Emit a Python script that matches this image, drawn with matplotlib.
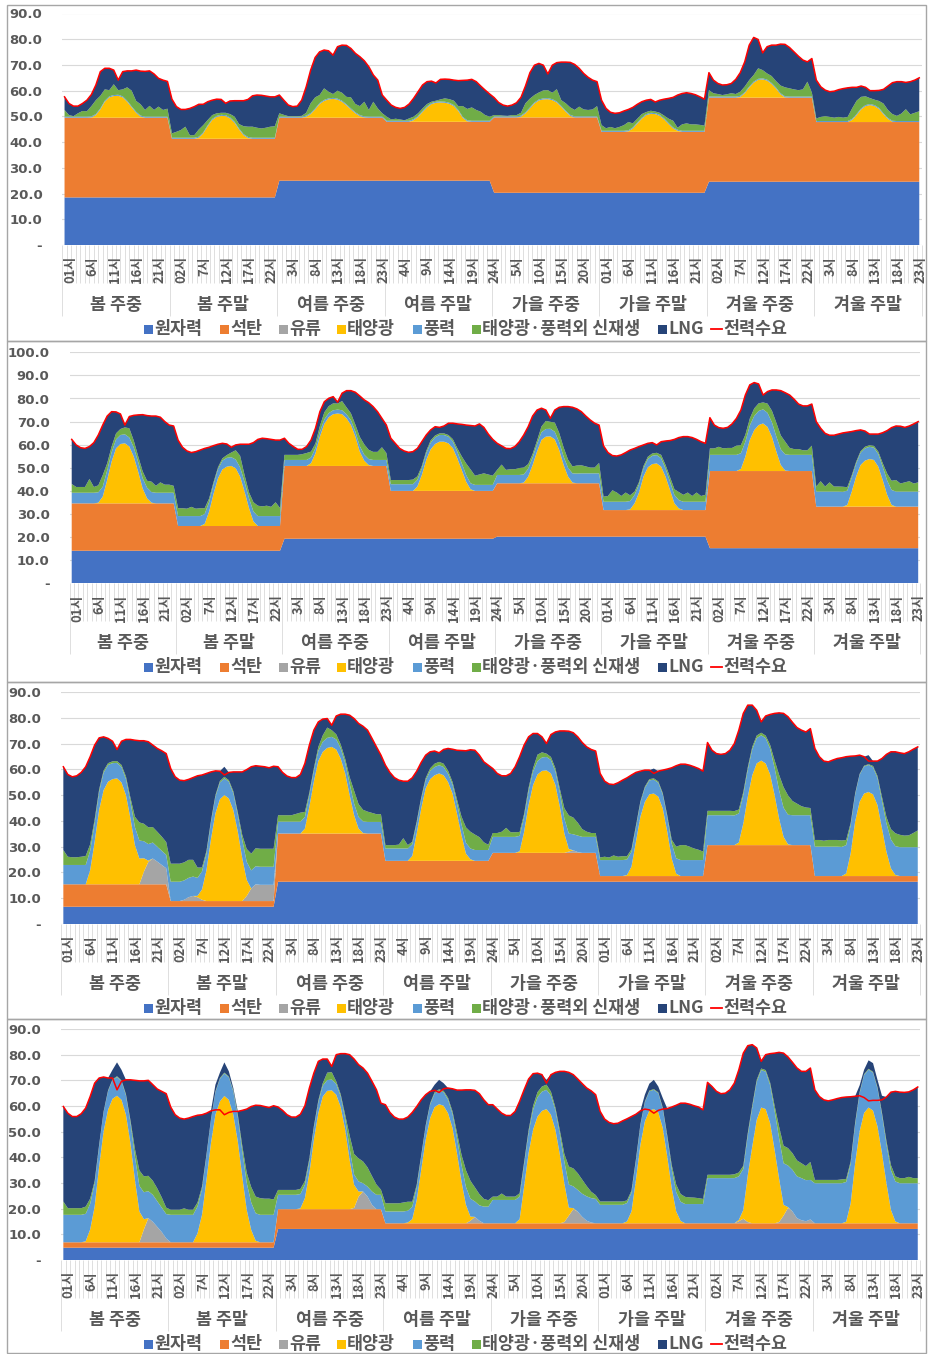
import numpy as np
import matplotlib
matplotlib.use("Agg")
import matplotlib.pyplot as plt
import matplotlib.transforms as mtransforms
from matplotlib.patches import Rectangle
from matplotlib.lines import Line2D
from matplotlib.collections import LineCollection

plt.rcParams['font.family'] = ['Noto Sans CJK KR', 'DejaVu Sans']

GROUPS = ['봄 주중', '봄 주말', '여름 주중', '여름 주말', '가을 주중', '가을 주말', '겨울 주중', '겨울 주말']
SERIES = ['원자력', '석탄', '유류', '태양광', '풍력', '태양광·풍력외 신재생', 'LNG']
COLORS = ['#4472C4', '#ED7D31', '#A5A5A5', '#FFC000', '#5B9BD5', '#70AD47', '#264478']
DEMAND_NAME = '전력수요'
HOUR_LABELS = ['01시', '02시', '3시', '4시', '5시', '6시', '7시', '8시', '9시', '10시', '11시', '12시',
               '13시', '14시', '15시', '16시', '17시', '18시', '19시', '20시', '21시', '22시', '23시', '24시']
Z24 = [0] * 24

# ---------------- Panel 1 ----------------
P1_NUC = [18.5, 18.5, 25.0, 25.0, 20.3, 20.3, 24.6, 24.6]
P1_COAL = [31.0, 22.8, 24.5, 22.9, 29.3, 23.7, 32.7, 23.2]
P1_DEMAND = [
    [57.6,55.0,54.0,54.0,55.0,56.3,58.5,62.2,67.4,68.7,68.7,68.0,64.1,67.4,67.7,67.7,68.0,67.6,67.5,67.7,66.5,64.8,64.1,63.6],
    [56.7,53.8,52.7,52.7,53.1,53.8,54.7,54.7,55.7,56.3,56.7,56.6,55.1,56.0,56.1,56.1,56.1,56.6,58.0,58.3,58.2,57.9,57.6,57.6],
    [58.3,56.3,54.4,53.8,54.0,56.3,61.5,68.0,72.9,75.1,75.8,75.5,73.8,77.1,77.7,77.6,76.4,74.5,73.2,71.6,69.3,66.1,64.1,58.3],
    [56.3,54.4,53.5,53.1,53.5,54.8,57.0,59.6,62.2,63.5,63.7,63.0,64.4,64.5,64.4,64.1,63.9,64.0,64.1,64.4,63.5,61.8,60.2,58.7],
    [57.3,55.4,54.4,54.0,54.4,55.3,57.4,61.8,67.0,69.9,70.6,69.9,66.5,69.9,70.9,71.1,71.1,71.0,70.2,68.7,66.7,65.2,64.1,63.5],
    [56.3,53.1,51.6,51.2,51.4,52.1,52.7,53.5,54.7,55.7,56.3,56.6,55.6,56.3,56.7,57.0,57.4,58.3,58.9,59.2,58.9,58.4,57.6,56.7],
    [67.0,64.1,62.8,62.2,62.3,62.8,64.4,67.0,71.2,77.7,80.7,79.9,74.7,77.1,77.7,77.7,78.1,78.0,76.8,75.1,73.4,71.9,71.2,72.5],
    [64.1,61.5,60.2,59.6,59.8,60.4,60.8,61.1,61.3,61.3,61.8,61.3,60.0,60.0,60.1,60.5,61.8,63.1,63.5,63.5,63.2,63.5,64.1,65.0]]
P1_OIL = [Z24, Z24, Z24, Z24, Z24, Z24, Z24, Z24]
P1_SOLAR = [
    [0,0,0,0,0,0,0.1,1.0,3.2,6.2,7.9,8.4,8.5,7.9,6.2,4.0,1.9,0.4,0,0,0,0,0,0],
    [0,0,0,0,0,0,0.4,2.1,4.9,7.3,8.5,8.9,8.8,7.9,6.2,3.6,1.4,0.3,0,0,0,0,0,0],
    [0,0,0,0,0,0,0.4,1.4,3.2,5.3,6.5,7.1,7.3,7.0,6.2,4.8,3.2,1.7,0.6,0.1,0,0,0,0],
    [0,0,0,0,0,0,0.6,1.9,3.8,5.6,6.9,7.4,7.5,7.4,7.0,6.1,4.2,1.5,0.2,0,0,0,0,0],
    [0,0,0,0,0,0,0.3,1.6,3.5,5.4,6.6,7.0,7.1,6.7,5.8,4.1,2.2,0.6,0,0,0,0,0,0],
    [0,0,0,0,0,0,0.2,1.3,3.2,5.1,6.5,7.0,6.9,6.2,4.8,3.0,1.3,0.4,0,0,0,0,0,0],
    [0,0,0,0,0,0,0,0.3,1.7,3.9,5.8,6.9,7.1,6.6,5.3,3.5,1.3,0.1,0,0,0,0,0,0],
    [0,0,0,0,0,0,0,0,0.8,2.7,4.9,6.2,6.6,6.2,5.1,3.0,1.2,0.1,0,0,0,0,0,0]]
P1_WIND_G = [0.4, 0.4, 0.4, 0.4, 0.4, 0.4, 0.4, 0.4]
P1_RENEW = [
    [2.6,0.6,0.2,1.3,2.2,2.1,4.0,5.4,4.9,4.4,2.4,4.2,1.8,2.7,5.2,6.1,4.2,4.4,2.6,4.2,2.6,3.9,2.6,3.1],
    [1.7,2.3,3.0,4.3,1.0,1.0,2.8,2.8,2.0,1.5,1.0,0.8,0.9,1.3,2.0,1.7,3.1,4.0,4.3,3.9,3.6,3.9,4.3,4.5],
    [1.3,0.7,0.2,0.2,0.2,0.3,1.1,3.8,4.3,3.1,4.5,2.6,1.5,3.1,3.1,2.9,4.3,3.2,3.5,5.7,2.6,5.8,3.2,1.3],
    [1.6,0.5,0.8,0.5,0.2,0.9,1.0,1.0,1.0,0.9,0.5,0.4,0.8,1.3,1.4,1.7,1.5,4.2,4.4,5.2,4.2,3.5,2.2,1.6],
    [0.5,0.5,0.3,0.2,0.5,0.5,1.1,3.5,3.4,2.9,2.7,3.1,3.1,2.5,4.8,2.2,2.9,2.9,2.5,3.8,2.7,2.5,2.7,4.0],
    [2.2,1.0,1.5,1.0,1.5,2.2,3.2,1.6,1.5,1.4,0.8,0.8,0.6,0.8,1.1,1.7,2.6,0.8,2.5,2.9,2.5,2.5,2.3,2.0],
    [2.5,1.3,1.0,0.6,0.9,1.3,1.0,1.6,2.2,2.5,2.6,4.1,3.2,2.4,2.7,2.5,3.0,3.5,3.2,2.8,2.5,2.8,5.8,1.6],
    [1.0,1.6,1.9,1.6,1.3,1.6,1.3,1.6,4.1,5.2,4.5,3.4,2.3,2.1,2.7,3.8,3.1,2.6,2.0,2.9,4.6,2.6,3.2,3.8]]
P1_SURPLUS = {}

# ---------------- Panel 2 ----------------
P2_NUC = [14.1, 14.1, 19.3, 19.3, 20.2, 20.2, 15.2, 15.2]
P2_COAL = [20.5, 10.7, 31.5, 20.7, 23.1, 11.5, 33.4, 18.0]
P2_DEMAND = [
    [62.3,59.9,58.7,58.4,59.2,60.9,64.2,68.5,72.4,74.3,74.2,73.3,68.5,72.2,72.7,72.9,73.0,72.6,72.4,72.4,71.9,70.0,68.5,68.1],
    [62.0,58.9,57.3,56.6,57.0,57.7,58.4,58.9,59.6,60.2,60.6,60.3,58.9,59.9,60.2,60.2,60.2,60.9,62.3,62.8,62.6,62.3,62.0,62.0],
    [62.8,60.6,59.2,58.0,58.0,59.2,62.0,67.1,74.3,78.6,80.1,80.8,78.4,82.3,83.4,83.4,82.7,81.1,79.4,78.2,76.5,74.3,71.4,68.5],
    [62.8,60.6,58.4,57.3,56.7,57.0,58.4,61.3,64.2,66.4,67.8,67.5,68.1,69.3,69.3,69.0,68.8,68.5,68.3,68.1,69.0,67.5,64.6,62.3],
    [60.6,59.5,58.4,58.3,59.2,61.3,64.2,67.8,72.4,75.0,75.8,75.0,71.4,75.0,76.2,76.5,76.5,76.2,75.5,74.3,72.4,70.7,69.3,68.5],
    [59.5,56.6,55.3,55.1,55.6,56.6,57.7,58.4,59.2,59.9,60.6,60.9,59.9,61.3,61.6,61.8,62.3,63.1,63.5,63.5,63.1,62.3,61.3,60.6],
    [71.7,68.5,67.4,67.1,67.5,69.0,71.4,75.0,81.5,85.9,86.9,86.3,81.5,83.0,83.7,83.7,83.4,82.5,81.5,79.7,77.6,76.8,76.8,77.6],
    [70.0,67.1,64.9,64.1,64.1,64.6,65.1,65.4,65.7,66.1,66.4,65.9,64.6,64.6,64.6,65.2,66.1,67.4,68.1,68.0,67.5,68.1,69.0,70.0]]
P2_OIL = [Z24, Z24, Z24, Z24, Z24, Z24, Z24, Z24]
P2_SOLAR = [
    [0,0,0,0,0,0,0.3,2.9,10.1,18.1,23.8,25.7,26.0,24.6,20.2,13.7,6.5,2.2,0.3,0,0,0,0,0],
    [0,0,0,0,0,0,0.9,6.2,13.9,20.6,24.5,25.7,26.0,25.0,21.4,14.9,7.8,2.0,0,0,0,0,0,0],
    [0,0,0,0,0,0,1.2,5.5,12.7,18.2,21.1,22.4,22.7,22.4,20.6,17.8,12.7,6.2,2.3,0.4,0,0,0,0],
    [0,0,0,0,0,0,1.9,6.9,13.4,18.0,20.3,21.3,21.3,20.6,18.5,14.1,9.1,4.0,0.7,0,0,0,0,0],
    [0,0,0,0,0,0,0.3,2.9,7.9,13.7,18.8,20.2,20.3,19.0,14.4,7.9,2.9,0.3,0,0,0,0,0,0],
    [0,0,0,0,0,0,0.3,2.9,7.5,14.4,18.5,19.9,20.2,18.8,14.4,8.7,2.9,0.7,0,0,0,0,0,0],
    [0,0,0,0,0,0,0,0.9,6.2,13.4,17.7,19.9,20.6,19.1,14.8,8.4,2.6,0.2,0,0,0,0,0,0],
    [0,0,0,0,0,0,0,0.7,6.5,13.0,18.0,19.9,20.6,20.2,17.3,11.5,5.1,0.7,0,0,0,0,0,0]]
P2_WIND = [
    [4.6,4.6,4.6,4.6,4.6,4.6,4.5,4.3,4.2,4.0,3.9,3.9,3.9,3.9,4.0,4.2,4.4,4.6,4.6,4.6,4.6,4.6,4.6,4.6],
    [4.3,4.3,4.3,4.3,4.3,4.3,4.3,4.2,4.1,4.0,3.8,3.8,3.8,3.8,4.0,4.2,4.3,4.3,4.3,4.3,4.3,4.3,4.3,4.3],
    [2.6,2.6,2.6,2.6,2.6,2.6,2.5,2.3,2.1,2.0,1.8,1.7,1.7,1.7,1.8,2.0,2.2,2.4,2.6,2.6,2.6,2.6,2.6,2.6],
    [2.9,2.9,2.9,2.9,2.9,2.9,2.9,2.9,2.9,2.9,2.9,2.9,2.9,2.9,2.9,2.9,2.9,2.9,2.6,2.6,2.6,2.6,2.6,2.6],
    [3.6,3.6,3.6,3.6,3.6,3.6,3.5,3.4,3.3,3.3,3.3,3.3,3.3,3.3,3.4,3.6,3.8,4.0,4.2,4.3,4.3,4.3,4.3,4.3],
    [3.6,3.6,3.6,3.6,3.6,3.6,3.6,3.6,3.6,3.6,3.6,3.6,3.6,3.6,3.6,3.6,3.6,3.6,3.6,3.6,3.6,3.6,3.6,3.6],
    [7.0,7.0,7.0,7.0,7.0,7.0,7.0,6.8,6.5,6.3,6.1,6.1,6.1,6.1,6.3,6.5,6.8,7.0,7.0,7.0,7.0,7.0,7.0,7.0],
    [6.5,6.5,6.5,6.5,6.5,6.5,6.4,6.2,6.0,5.6,5.3,5.3,5.3,5.3,5.5,5.8,6.2,6.5,6.5,6.5,6.5,6.5,6.5,6.5]]
P2_RENEW = [
    [3.8,2.5,2.5,2.5,6.0,2.5,3.0,5.0,3.0,2.5,2.6,2.6,3.0,4.0,3.0,2.5,3.0,3.0,4.5,3.0,4.5,3.5,3.5,3.0],
    [3.4,3.4,3.2,4.0,3.2,3.4,2.5,1.5,1.0,0.8,1.0,1.2,2.0,4.0,5.0,3.0,2.5,4.0,4.5,4.2,4.5,4.0,6.0,3.5],
    [2.2,2.2,2.2,2.2,2.5,3.0,2.5,2.0,2.5,3.0,3.0,3.0,2.6,4.0,3.0,3.0,3.0,4.0,4.5,4.0,3.5,3.5,5.5,3.0],
    [1.8,1.8,1.8,1.8,1.8,2.0,1.5,1.0,1.0,1.0,0.8,0.7,0.7,0.7,1.0,1.5,3.0,5.0,6.0,4.0,4.5,5.0,4.5,4.0],
    [2.2,4.5,2.2,2.5,2.5,3.0,3.0,2.0,1.5,1.5,2.5,3.5,3.0,4.0,4.0,4.0,3.5,3.0,3.5,3.5,3.0,2.5,2.5,4.5],
    [2.2,2.5,5.0,4.0,2.5,4.0,2.5,1.5,1.0,1.0,1.0,1.0,1.0,1.5,1.5,2.0,2.5,3.5,3.0,4.0,2.5,4.0,2.5,3.0],
    [2.8,2.8,3.5,2.8,3.0,3.0,4.0,3.5,3.0,3.0,3.3,3.3,3.0,4.0,5.0,6.0,6.0,5.5,3.0,2.5,2.5,2.0,2.0,4.0],
    [2.2,4.5,2.2,4.0,2.2,2.2,2.2,1.5,1.0,0.8,0.7,0.7,0.7,0.8,1.0,1.5,3.0,4.0,5.0,3.5,4.0,4.5,3.5,4.0]]
P2_SURPLUS = {}

# ---------------- Panel 3 ----------------
P3_NUC = [6.7, 6.7, 16.4, 16.4, 16.4, 16.4, 16.4, 16.4]
P3_COAL = [8.7, 2.2, 18.7, 8.1, 11.2, 2.2, 14.2, 2.2]
P3_DEMAND = [
    [61.0,58.0,57.1,57.5,58.8,61.0,64.9,69.4,72.2,72.6,72.0,70.9,67.7,70.9,71.6,71.6,71.3,71.1,71.1,70.7,69.4,68.1,67.2,66.1],
    [60.3,57.1,55.8,55.6,56.1,56.8,57.5,57.8,58.4,59.0,59.4,59.3,57.8,58.8,59.0,59.0,59.0,59.9,61.0,61.4,61.2,61.0,60.6,61.2],
    [61.0,58.8,57.4,56.8,56.8,58.0,62.3,69.4,75.2,78.4,79.5,79.7,77.1,80.7,81.4,81.4,81.0,79.7,77.8,76.7,75.2,72.0,68.7,65.5],
    [61.6,58.8,56.8,55.8,55.4,55.4,56.7,59.3,62.7,65.5,66.8,67.1,66.4,67.7,68.1,67.8,67.4,67.3,67.2,67.6,67.4,65.5,62.9,61.6],
    [60.3,58.4,57.5,57.5,58.4,61.0,64.9,69.4,72.6,73.9,73.9,72.6,70.0,73.5,74.5,74.9,74.9,74.8,74.2,72.6,70.4,68.7,67.7,67.1],
    [58.4,55.4,54.3,54.1,54.8,55.8,56.7,57.8,58.8,59.3,59.7,59.7,58.4,59.3,59.7,60.1,60.6,61.4,62.0,62.0,61.6,61.0,60.3,59.3],
    [70.4,67.4,66.1,65.8,66.1,67.4,70.0,75.2,81.7,84.9,84.9,82.9,78.4,80.7,81.3,81.7,81.9,81.7,80.4,78.2,76.2,75.2,74.5,75.8],
    [68.1,64.9,63.2,62.9,63.6,64.2,64.5,64.9,65.1,65.2,65.5,64.9,63.2,63.2,63.2,64.2,65.8,66.8,66.8,66.4,66.1,66.8,67.8,68.7]]
P3_OIL = [
    [0,0,0,0,0,0,0,0,0,0,0,0,0,0,0,0,0,0,4.9,8.7,10.0,8.8,7.5,6.2],
    [0,0,0,0.5,1.5,2.0,1.5,0.5,0,0,0,0,0,0,0,0,0,2.0,4.9,6.5,6.3,6.3,6.3,6.3],
    Z24, Z24,
    [0,0,0,0,0,0,0,0,0,0,0,0,0,0,0,0,0,0.5,1.0,0.3,0,0,0,0],
    Z24, Z24, Z24]
P3_SOLAR = [
    [0,0,0,0,0,0,5.5,16.5,28.8,36.5,39.8,40.8,41.1,39.5,34.6,25.6,15.2,10.0,5.2,0.5,0,0,0,0],
    [0,0,0,0,0,0,0.5,4.0,12.0,24.0,34.0,39.5,41.1,39.8,35.3,26.9,16.6,6.2,0,0,0,0,0,0],
    [0,0,0,0,0,0,1.9,10.4,20.1,28.1,31.7,33.2,33.6,32.6,29.1,23.3,14.9,7.1,1.9,0.2,0,0,0,0],
    [0,0,0,0,0,0,1.9,10.6,20.3,28.1,31.7,33.2,33.9,33.2,30.6,26.1,18.3,10.0,2.8,0.6,0,0,0,0],
    [0,0,0,0,0,0,0.6,8.1,18.5,26.3,30.4,31.8,32.0,30.8,26.3,17.8,7.5,1.0,0,0,0,0,0,0],
    [0,0,0,0,0,0,0.4,3.6,13.3,23.0,28.8,31.7,32.0,30.8,26.2,17.2,6.8,0.9,0,0,0,0,0,0],
    [0,0,0,0,0,0,0,1.0,8.4,18.7,27.1,31.7,32.8,31.7,27.4,19.4,10.3,3.2,0.3,0,0,0,0,0],
    [0,0,0,0,0,0,0,1.0,8.8,21.1,28.8,32.0,32.6,31.7,27.5,18.5,9.4,3.0,0.4,0,0,0,0,0]]
P3_WIND = [
    [7.5,7.5,7.5,7.5,7.5,7.5,7.5,7.2,7.0,6.8,6.5,6.2,6.0,6.0,6.2,6.5,7.0,7.0,6.6,6.4,6.2,5.8,5.5,5.2],
    [7.5,7.5,7.5,7.5,7.5,7.5,7.0,7.0,6.5,6.5,6.5,6.5,6.5,6.5,6.5,6.5,7.0,7.0,7.0,7.0,7.0,7.0,7.0,7.0],
    [4.6,4.6,4.6,4.6,4.6,4.6,4.5,4.5,4.2,4.0,3.9,3.9,3.9,3.9,4.0,4.2,4.5,4.5,4.5,4.5,4.5,4.5,4.5,4.5],
    [4.8,4.8,4.8,4.8,4.8,4.8,4.5,4.0,3.5,3.2,3.2,3.2,3.2,3.2,3.2,3.5,4.0,4.2,4.2,4.2,4.2,4.2,4.2,4.2],
    [6.2,6.2,6.2,6.2,6.2,6.2,6.0,5.8,5.5,5.2,5.2,5.2,5.2,5.2,5.3,5.5,5.8,6.0,6.2,6.4,6.2,6.2,6.2,6.2],
    [6.2,6.2,6.2,6.2,6.2,6.2,6.0,5.8,5.5,5.4,5.4,5.4,5.4,5.4,5.4,5.6,5.8,6.0,6.2,6.2,6.2,6.2,6.2,6.2],
    [11.6,11.6,11.6,11.6,11.6,11.6,11.5,11.3,11.0,10.5,10.0,9.8,9.8,9.8,10.0,10.5,11.0,11.3,11.5,11.6,11.6,11.6,11.6,11.6],
    [11.4,11.4,11.4,11.4,11.4,11.4,11.3,11.0,10.8,10.5,10.5,10.5,10.5,10.5,10.5,10.7,11.0,11.2,11.2,11.2,11.2,11.2,11.2,11.2]]
P3_RENEW = [
    [5.8,3.2,3.0,3.0,3.2,3.5,2.5,1.5,1.0,0.8,0.7,0.7,0.7,0.8,1.0,1.5,4.0,7.0,6.8,6.5,6.0,5.8,5.5,5.0],
    [7.0,7.0,7.0,7.0,7.0,6.5,4.0,1.5,1.0,0.7,0.6,0.6,0.6,0.6,0.8,1.0,2.0,5.0,6.5,7.0,7.0,7.0,7.0,7.0],
    [2.5,2.5,2.5,2.5,3.0,3.5,2.0,1.0,1.0,1.5,2.5,4.0,2.6,2.0,1.5,1.5,2.5,5.0,5.0,4.5,4.0,3.5,3.0,3.0],
    [1.3,1.3,1.3,1.5,4.0,1.3,1.0,0.8,0.8,0.8,1.0,1.3,1.3,1.3,1.2,1.0,1.5,3.0,6.0,6.5,6.0,5.0,3.0,2.0],
    [1.5,1.5,2.0,3.5,1.8,1.8,1.5,1.2,1.2,1.3,2.5,2.0,1.3,1.2,1.2,1.5,4.0,7.0,6.5,5.0,3.0,2.0,1.5,1.5],
    [1.0,1.3,1.0,1.8,1.3,1.5,1.3,1.0,0.8,0.6,0.5,0.5,0.5,0.5,0.6,0.8,1.5,4.5,5.8,5.8,5.2,4.5,4.0,3.3],
    [1.7,1.7,1.7,1.7,1.7,1.7,1.7,1.5,1.2,1.0,1.0,1.0,1.0,1.0,1.5,3.0,6.0,8.0,7.5,5.5,4.5,3.5,3.0,2.8],
    [2.6,2.6,2.3,2.6,2.6,2.6,2.5,2.0,1.0,0.5,0.3,0.3,0.3,0.5,0.8,1.5,2.5,4.0,5.0,4.8,4.5,4.6,5.5,6.5]]
P3_SURPLUS = {(1, 12): 3.2, (5, 12): 1.9, (7, 12): 2.3}

# ---------------- Panel 4 ----------------
P4_NUC = [4.8, 4.8, 12.1, 12.1, 12.1, 12.1, 12.1, 12.1]
P4_COAL = [2.1, 2.1, 7.7, 2.2, 2.2, 2.2, 2.2, 2.2]
P4_DEMAND = [
    [59.8,57.2,55.9,55.9,57.0,59.2,63.7,68.9,70.9,71.3,70.9,70.9,66.3,69.6,70.2,70.2,70.0,69.8,69.8,70.0,68.3,66.6,65.7,64.8],
    [59.6,56.6,55.3,54.9,55.3,55.9,56.4,56.6,57.2,58.1,58.5,58.5,56.6,57.5,57.9,57.9,58.3,58.8,59.8,60.3,60.2,59.8,59.4,60.1],
    [59.6,58.3,56.6,55.7,55.7,56.8,60.1,67.0,72.8,77.4,78.3,78.3,75.4,80.0,80.4,80.4,80.0,78.3,76.1,74.8,72.8,69.6,66.3,61.1],
    [60.5,57.5,55.7,54.9,54.9,55.7,57.5,59.8,62.4,64.4,65.7,66.1,65.3,66.7,67.0,66.7,66.2,66.2,66.3,66.3,66.1,64.8,62.4,60.5],
    [60.5,58.8,57.2,56.3,56.3,57.9,61.8,66.3,70.5,72.6,72.8,72.2,68.9,72.2,73.1,73.5,73.5,73.1,72.2,70.5,68.7,67.0,65.9,64.4],
    [57.9,54.9,53.6,53.1,53.3,54.2,55.0,55.9,56.8,58.1,58.8,58.5,57.2,58.3,58.8,59.0,59.6,60.3,61.1,61.1,60.7,60.1,59.6,58.5],
    [69.2,67.6,65.7,64.8,65.0,66.3,68.9,74.1,80.6,83.5,83.9,82.6,77.4,80.0,80.4,80.6,80.9,80.6,79.1,77.0,74.8,73.5,73.5,74.8],
    [66.3,63.7,62.4,62.0,62.4,62.9,63.3,63.5,63.6,63.8,64.0,63.3,62.0,62.2,62.2,62.4,63.5,65.4,65.7,65.4,65.3,65.5,66.3,67.4]]
P4_OIL = [
    [0,0,0,0,0,0,0,0,0,0,0,0,0,0,0,0,0,0,5.0,9.4,8.0,6.0,4.0,1.5],
    Z24,
    [0,0,0,0,0,0,0,0,0,0,0,0,0,0,0,0,0,0.5,4.9,6.9,4.9,1.7,0,0],
    [0,0,0,0,0,0,0,0,0,0,0,0,0,0,0,0,0,0,0,1.0,2.5,1.0,0,0],
    [0,0,0,0,0,0,0,0,0,0,0,0,0,0,0,0,0.5,3.0,5.5,4.5,2.5,1.0,0.3,0],
    Z24,
    [0,0,0,0,0,0,0,0.8,1.8,0.5,0,0,0,0,0,0,0.5,3.0,6.0,4.6,2.0,1.2,0.8,1.5],
    Z24]
P4_SOLAR = [
    [0,0,0,0,0,0.4,5.0,13.9,29.5,43.2,51.6,55.9,57.1,55.5,49.7,38.6,24.4,12.0,4.0,0,0,0,0,0],
    [0,0,0,0,0,0,3.5,10.7,24.3,38.6,49.7,54.9,57.0,55.5,49.7,39.3,25.6,12.6,4.8,0.6,0,0,0,0],
    [0,0,0,0,0,0.3,4.3,14.0,27.0,37.4,43.9,46.1,46.3,44.6,39.8,31.0,19.2,9.0,2.0,0,0,0,0,0],
    [0,0,0,0,0,0.3,1.6,9.1,20.8,32.5,41.0,45.3,46.4,45.8,42.9,37.1,27.3,16.3,7.2,1.6,0,0,0,0],
    [0,0,0,0,0,0,1.6,14.3,27.3,36.4,41.6,43.8,44.5,42.3,36.4,26.7,15.0,3.1,0.4,0,0,0,0,0],
    [0,0,0,0,0,0,0.7,4.6,16.9,30.6,39.7,43.9,44.5,43.2,37.1,26.0,13.7,4.6,0.9,0,0,0,0,0],
    [0,0,0,0,0,0,0,0.5,3.4,18.2,29.9,40.3,45.1,44.5,39.0,28.6,16.9,4.2,0.3,0,0,0,0,0],
    [0,0,0,0,0,0,0,0.6,7.8,23.4,35.8,43.0,45.1,43.9,37.7,27.3,15.6,5.2,0.7,0,0,0,0,0]]
P4_WIND = [
    [10.7,10.7,10.7,10.7,10.7,10.7,10.0,9.0,8.0,7.5,7.3,7.3,7.3,7.3,7.5,8.0,9.0,10.0,10.5,10.5,10.5,10.0,9.5,9.5],
    [10.7,10.7,10.7,10.7,10.7,10.7,10.5,10.0,9.5,9.0,8.8,8.8,8.8,8.8,9.0,9.5,10.0,10.5,10.7,10.7,10.7,10.7,10.7,10.7],
    [5.6,5.6,5.6,5.6,5.6,5.6,5.2,4.8,4.5,4.3,4.2,4.2,4.2,4.2,4.2,4.3,4.5,4.0,3.9,3.2,3.9,5.2,5.6,5.6],
    [4.6,4.6,4.6,4.6,4.6,4.6,4.8,5.0,5.0,5.2,5.3,5.3,5.3,5.3,5.3,5.5,6.0,6.5,7.0,7.0,6.0,6.0,6.5,6.5],
    [9.1,9.1,9.1,9.1,9.1,9.1,8.8,8.5,8.0,7.8,7.5,7.5,7.5,7.5,7.7,8.0,8.5,9.0,8.5,8.5,9.0,9.5,9.5,9.5],
    [7.2,7.2,7.2,7.2,7.2,7.2,7.2,7.3,7.4,7.5,7.5,7.5,7.5,7.5,7.5,7.5,7.5,7.5,7.5,7.5,7.5,7.5,7.5,7.5],
    [17.6,17.6,17.6,17.6,17.6,17.6,17.6,17.0,16.0,15.5,15.0,14.8,14.6,14.6,14.8,15.2,15.8,16.2,16.2,16.2,16.3,16.4,16.0,15.4],
    [15.6,15.6,15.6,15.6,15.6,15.6,15.6,15.5,15.3,15.0,14.8,14.8,14.8,14.8,14.8,15.0,15.2,15.5,15.6,15.6,15.6,15.6,15.6,15.6]]
P4_RENEW = [
    [5.2,2.6,2.6,2.6,2.6,2.8,2.0,1.0,0.5,0.3,0.3,0.3,0.3,0.3,0.5,1.0,3.0,6.0,6.2,6.0,5.5,5.0,4.0,2.5],
    [2.0,2.0,2.0,2.5,2.0,2.0,1.5,1.0,0.5,0.3,0.3,0.3,0.3,0.3,0.5,1.0,2.0,4.0,6.0,6.5,6.5,6.3,6.3,6.0],
    [1.9,1.9,1.9,1.9,1.9,2.0,1.5,1.0,0.8,0.7,1.0,2.9,2.9,1.0,0.8,1.5,5.0,8.0,9.0,8.5,7.5,6.0,4.0,2.0],
    [3.2,3.2,3.2,3.2,3.5,3.5,2.0,1.0,0.7,0.5,0.5,0.5,0.5,0.5,0.7,1.0,2.0,4.0,6.5,7.0,5.5,4.4,3.0,2.5],
    [1.3,1.3,2.5,1.3,1.3,1.3,1.3,1.0,1.0,1.5,2.0,2.0,2.0,1.5,1.0,1.5,3.0,7.0,7.0,6.5,5.5,4.0,2.5,1.5],
    [1.3,1.3,1.3,1.3,1.3,1.3,1.0,0.8,0.7,0.5,0.3,0.3,0.3,0.3,0.5,0.8,1.5,3.0,3.0,2.8,2.6,2.5,2.3,2.0],
    [1.3,1.3,1.3,1.3,1.3,1.3,1.5,1.5,1.2,1.0,1.0,0.8,0.6,0.6,1.0,2.0,4.5,6.8,6.8,6.5,6.2,5.8,5.5,7.0],
    [1.3,1.3,1.3,1.3,1.3,1.3,1.5,1.2,1.0,0.8,0.5,0.3,0.3,0.3,0.5,0.8,1.3,2.0,2.0,2.0,2.0,2.5,2.0,2.0]]
# generation stacked above demand (LNG kept on while renewables exceed demand)
P4_SURPLUS = {(0, 11): 3.2, (0, 12): 10.7, (0, 13): 4.5,
              (1, 10): 9.8, (1, 11): 14.5, (1, 12): 20.4, (1, 13): 16.0, (1, 14): 9.1,
              (3, 11): 2.2, (3, 12): 4.9, (3, 13): 2.2,
              (4, 12): 1.3,
              (5, 10): 5.6, (5, 11): 10.2, (5, 12): 13.0, (5, 13): 9.3, (5, 14): 4.3,
              (7, 10): 4.0, (7, 11): 10.8, (7, 12): 15.8, (7, 13): 14.5, (7, 14): 8.0, (7, 15): 1.6}


def flat(groups):
    return np.array([v for g in groups for v in g], dtype=float)


def per_group(vals):
    return np.repeat(np.asarray(vals, dtype=float), 24)


def surplus_arr(d):
    s = np.zeros(192)
    for (g, h), v in d.items():
        s[g * 24 + h] = v
    return s


PANELS = [
    dict(nuc=P1_NUC, coal=P1_COAL, oil=P1_OIL, solar=P1_SOLAR, wind=per_group(P1_WIND_G),
         renew=P1_RENEW, demand=P1_DEMAND, surplus=P1_SURPLUS, ymax=90, px=(62.3, 13.5, 921.5, 245.0)),
    dict(nuc=P2_NUC, coal=P2_COAL, oil=P2_OIL, solar=P2_SOLAR, wind=flat(P2_WIND),
         renew=P2_RENEW, demand=P2_DEMAND, surplus=P2_SURPLUS, ymax=100, px=(69.5, 352.3, 920.4, 583.3)),
    dict(nuc=P3_NUC, coal=P3_COAL, oil=P3_OIL, solar=P3_SOLAR, wind=flat(P3_WIND),
         renew=P3_RENEW, demand=P3_DEMAND, surplus=P3_SURPLUS, ymax=90, px=(61.1, 692.0, 920.0, 924.0)),
    dict(nuc=P4_NUC, coal=P4_COAL, oil=P4_OIL, solar=P4_SOLAR, wind=flat(P4_WIND),
         renew=P4_RENEW, demand=P4_DEMAND, surplus=P4_SURPLUS, ymax=90, px=(61.1, 1029.0, 920.0, 1260.0)),
]

W, H = 930, 1354
fig = plt.figure(figsize=(W / 100, H / 100), dpi=100)
TXT = '#595959'
BORDERS = [(7, 5, 926, 341), (7, 341, 926, 682), (7, 682, 926, 1019), (7, 1019, 926, 1353)]
for (l, t, r, b) in BORDERS:
    fig.patches.append(Rectangle((l / W, 1 - b / H), (r - l) / W, (b - t) / H, transform=fig.transFigure,
                                 fill=False, edgecolor='#A6A6A6', lw=1.0))

LEG_X = [144, 220, 279, 337, 413, 472, 658]
x = np.arange(192)
for p in PANELS:
    l, t, r, b = p['px']
    ax = fig.add_axes([l / W, 1 - b / H, (r - l) / W, (b - t) / H])
    nuc = per_group(p['nuc'])
    coal = per_group(p['coal'])
    oil = flat(p['oil'])
    solar = flat(p['solar'])
    wind = np.asarray(p['wind'], dtype=float)
    renew = flat(p['renew'])
    demand = flat(p['demand'])
    surplus = surplus_arr(p['surplus'])
    lng = np.clip(demand - (nuc + coal + oil + solar + wind + renew) + surplus, 0, None)
    ax.stackplot(x, nuc, coal, oil, solar, wind, renew, lng, colors=COLORS, labels=SERIES,
                 linewidth=0, zorder=2)
    ax.plot(x, demand, color='#FF0000', lw=1.1, zorder=4, label=DEMAND_NAME)
    ymax = p['ymax']
    ax.set_xlim(-0.5, 191.5)
    ax.set_ylim(0, ymax)
    yt = np.arange(0, ymax + 1, 10)
    ax.set_yticks(yt)
    ax.set_yticklabels(['-'] + [f'{v:.1f}' for v in yt[1:]])
    for lab in ax.get_yticklabels():
        lab.set_fontfamily('DejaVu Sans')
        lab.set_fontweight('bold')
    ax.tick_params(axis='y', length=0, pad=14.4, labelsize=9.5, labelcolor=TXT)
    ax.yaxis.grid(True, color='#D9D9D9', lw=0.8, zorder=0)
    ax.set_axisbelow(True)
    for s in ax.spines.values():
        s.set_visible(False)
    idx = np.arange(0, 192, 5)
    ax.set_xticks(idx + 1.2)
    ax.set_xticklabels([HOUR_LABELS[i % 24] for i in idx], rotation=90, fontsize=9.3,
                       color=TXT, fontweight='bold')
    ax.tick_params(axis='x', length=0, pad=8.0)
    hpx = b - t
    trans = mtransforms.blended_transform_factory(ax.transData, ax.transAxes)
    segs = []
    for k in range(193):
        xk = k - 0.5
        depth = 71 if k % 24 == 0 else 38
        segs.append([(xk, 0), (xk, -depth / hpx)])
    lc = LineCollection(segs, colors='#D9D9D9', linewidths=0.6, transform=trans, clip_on=False, zorder=0)
    ax.add_collection(lc)
    for g, name in enumerate(GROUPS):
        ax.text(24 * g + 11.5, -60 / hpx, name, transform=trans, ha='center', va='center',
                fontsize=12.5, fontweight='bold', color=TXT)
    # legend row
    yc = b + 84
    for i, name in enumerate(SERIES):
        x0 = LEG_X[i]
        fig.patches.append(Rectangle((x0 / W, 1 - (yc + 4.5) / H), 9 / W, 9 / H,
                                     transform=fig.transFigure, facecolor=COLORS[i], edgecolor='none'))
        fig.text((x0 + 10) / W, 1 - yc / H, name, ha='left', va='center', fontsize=12.5,
                 fontweight='bold', color=TXT)
    fig.lines.append(Line2D([711 / W, 722 / W], [1 - yc / H, 1 - yc / H], transform=fig.transFigure,
                            color='#FF0000', lw=1.3))
    fig.text(723 / W, 1 - yc / H, DEMAND_NAME, ha='left', va='center', fontsize=12.5,
             fontweight='bold', color=TXT)

fig.savefig('out.png', dpi=100)
